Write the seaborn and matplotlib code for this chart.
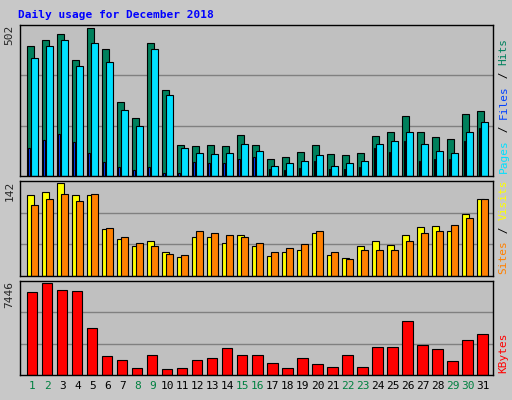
import numpy as np
import pandas as pd
import seaborn as sns
import matplotlib
matplotlib.use("Agg")
import matplotlib.pyplot as plt
from matplotlib.transforms import offset_copy

days = list(range(1, 32))
hits = [440, 461, 481, 392, 502, 430, 252, 197, 451, 290, 105, 102, 105, 102, 139, 105,
        57, 64, 81, 105, 74, 71, 78, 136, 149, 204, 149, 132, 125, 211, 221]
files = [399, 440, 461, 372, 451, 386, 225, 170, 430, 273, 95, 78, 74, 78, 108, 84,
         33, 43, 50, 71, 33, 43, 50, 108, 119, 149, 108, 84, 78, 149, 184]
pages = [95, 122, 143, 115, 78, 47, 30, 19, 30, 9, 9, 47, 43, 43, 57, 64,
         23, 19, 26, 50, 23, 23, 30, 95, 81, 119, 50, 57, 57, 119, 163]
visits = [123, 128, 142, 123, 123, 71, 57, 46, 54, 36, 29, 60, 60, 51, 63, 46,
          31, 37, 39, 66, 32, 28, 46, 54, 48, 62, 74, 76, 69, 94, 117]
sites = [108, 117, 125, 114, 125, 73, 59, 51, 46, 34, 32, 68, 65, 63, 60, 51,
         37, 43, 49, 68, 37, 26, 40, 39, 40, 54, 66, 69, 77, 88, 117]
kbytes = [6712, 7446, 6875, 6794, 3777, 1495, 1250, 598, 1576, 516, 598, 1250, 1413, 2147,
          1576, 1576, 1005, 598, 1413, 924, 679, 1576, 679, 2228, 2228, 4348, 2391, 2065,
          1168, 2799, 3288]
weekend = [1, 2, 8, 9, 15, 16, 22, 23, 29, 30]

sns.set_style("white")
plt.rcParams['font.family'] = ['DejaVu Sans Mono']

fig = plt.figure(figsize=(5.12, 4.0), dpi=100)
fig.patch.set_facecolor('#c8c8c8')

W, H = 512, 400
def mkax(top, bottom):
    ax = fig.add_axes([20 / W, (H - bottom) / H, 473 / W, (bottom - top) / H])
    ax.set_facecolor('#c0c0c0')
    return ax

d = np.array(days, dtype=float)

def bars(ax, xs, vals, color, width):
    df = pd.DataFrame({'x': xs, 'y': vals})
    sns.barplot(data=df, x='x', y='y', native_scale=True, color=color, saturation=1,
                width=width, edgecolor='black', linewidth=0.8, ax=ax)

renderer = fig.canvas.get_renderer()

def finish(ax, vmax, maxlabel, labels):
    ax.set_xlim(0.27, 31.8)
    ax.set_ylim(0, vmax * 1.02)
    for f in (1 / 3, 2 / 3):
        ax.axhline(vmax * 1.02 * f, color='#808080', lw=1, zorder=0)
    ax.set_xticks([]); ax.set_yticks([])
    ax.set_xlabel(''); ax.set_ylabel('')
    for s in ax.spines.values():
        s.set_color('black'); s.set_linewidth(1)
    ax.text(-0.012, 1.0, maxlabel, transform=ax.transAxes, rotation=90, ha='right',
            va='top', fontsize=8)
    parts = []
    for i, (t, c) in enumerate(labels):
        parts.append((t, c))
        if i < len(labels) - 1:
            parts.append((' / ', 'black'))
    off = 0.0
    for t, c in parts:
        tr = offset_copy(ax.transAxes, fig=fig, x=0, y=off, units='dots')
        tt = ax.text(1.012, 0.02, t, transform=tr, rotation=90, ha='left',
                     va='bottom', fontsize=8, color=c)
        off += tt.get_window_extent(renderer).height

ax1 = mkax(25, 176)
bars(ax1, d - 0.03, hits, '#00805c', 0.49)
bars(ax1, d + 0.24, files, '#00e0ff', 0.49)
bars(ax1, d - 0.12, pages, '#0040ff', 0.09)
finish(ax1, 502, '502', [('Pages', '#00e0ff'), ('Files', '#0040ff'), ('Hits', '#00805c')])

ax2 = mkax(181, 276)
bars(ax2, d - 0.03, visits, '#ffff00', 0.49)
bars(ax2, d + 0.24, sites, '#ff8000', 0.49)
finish(ax2, 142, '142', [('Sites', '#ff8000'), ('Visits', '#ffff00')])

ax3 = mkax(281, 375)
bars(ax3, d + 0.1, kbytes, '#ff0000', 0.67)
finish(ax3, 7446, '7446', [('KBytes', '#ff0000')])

for dd in days:
    ax3.text(dd + 0.1, -0.06, str(dd), transform=ax3.get_xaxis_transform(), ha='center',
             va='top', fontsize=8, color='#008040' if dd in weekend else 'black')

fig.text(18 / W, 1 - 15 / H, 'Daily usage for December 2018', color='#0000ff',
         fontsize=8, fontweight='bold', va='center', ha='left')

fig.savefig('out.png', dpi=100, facecolor=fig.get_facecolor())
